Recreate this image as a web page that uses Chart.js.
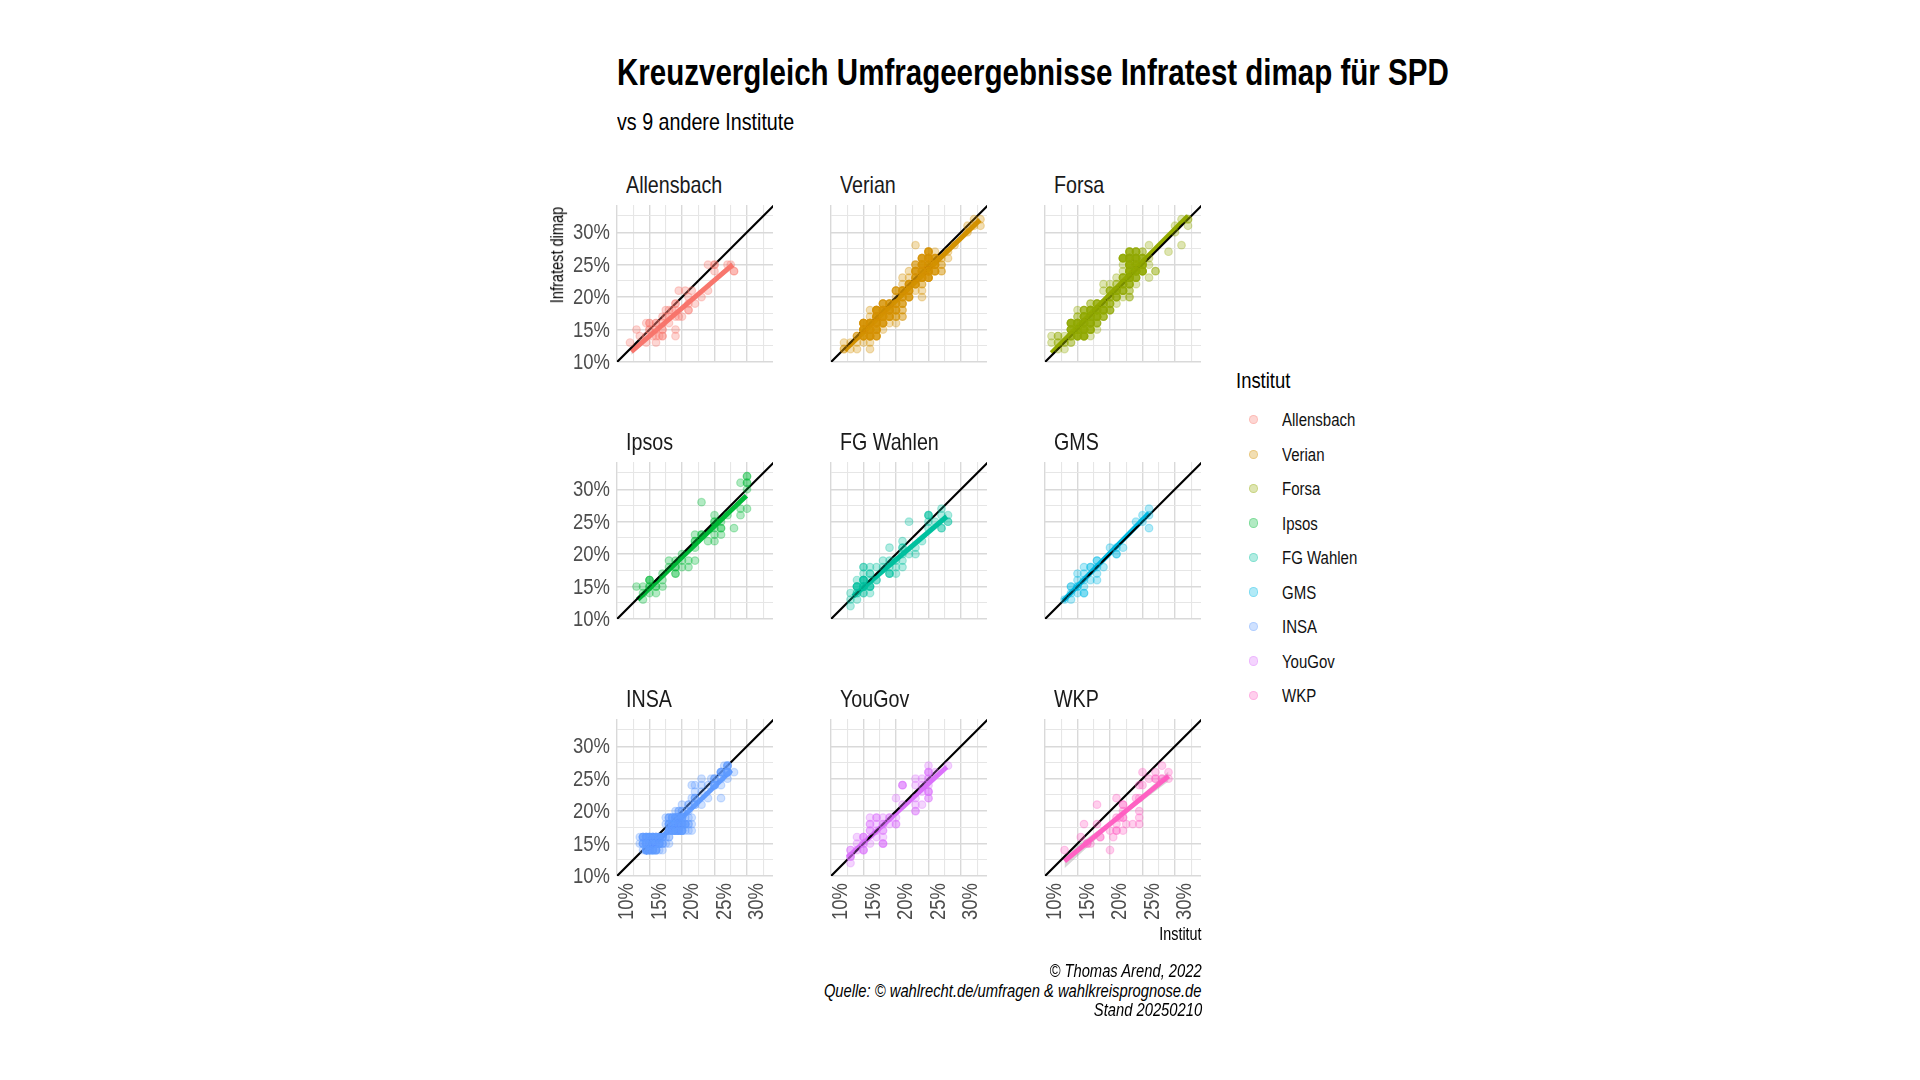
<!DOCTYPE html>
<html><head><meta charset="utf-8">
<script src="https://cdn.jsdelivr.net/npm/chart.js@4"></script>
<style>
html,body{margin:0;padding:0;background:#fff;width:1920px;height:1080px;overflow:hidden}
body{position:relative;font-family:"Liberation Sans",sans-serif;color:#000}
canvas{position:absolute}
.t{position:absolute;white-space:nowrap;line-height:1;transform:scaleX(.82);transform-origin:left center}
.t.r{transform-origin:right center}
.dot{position:absolute;width:7.4px;height:7.4px;border-radius:50%;border-width:1.2px;border-style:solid}
</style></head><body>
<script>
const institutes=["Allensbach","Verian","Forsa","Ipsos","FG Wahlen","GMS","INSA","YouGov","WKP"];
const colours=["#F8766D","#D39200","#93AA00","#00BA38","#00C19F","#00B9E3","#619CFF","#DB72FB","#FF61C3"];
const axisTicks=[10,15,20,25,30];
const identityLine=[[10,10],[35,35]];

const allensbach=[[24,25],[25,25],[25,25],[27,25],[27.5,25],[25,24],[28,24],[28,24],[24,21],[19.5,21],[20.5,21],[21.5,21],[21,20],[23,20],[22,19],[19,19],[19,19],[21,19],[17.5,18],[18,18],[18.5,18],[21,18],[21,18],[19,18],[17,17],[17.5,17],[19,17],[19.5,17],[20,17],[18,17],[14.5,16],[15,16],[15,16],[16,16],[16,16],[17,16],[18,16],[13,15],[15,15],[15,15],[16,15],[17,15],[17,15],[19,15],[13.5,14],[14.5,14],[15.5,14],[16,14],[16.5,14],[17,14],[17,14],[19,14],[12,13],[14.5,13],[16,13]];
const verian=[[32,32],[33,32],[33,31],[32,31],[31,31],[31,30],[23,28],[29,28],[26,27],[25,27],[25,27],[25,27],[28,27],[24,26],[24,26],[25,26],[25,26],[25,26],[26,26],[26,26],[27,26],[28,26],[23,25],[24,25],[24,25],[24,25],[25,25],[25,25],[25,25],[26,25],[26,25],[27,25],[27,25],[22,24],[23,24],[23,24],[24,24],[24,24],[24,24],[25,24],[25,24],[25,24],[26,24],[26,24],[27,24],[27,24],[21,23],[22,23],[23,23],[23,23],[24,23],[24,23],[25,23],[25,23],[21,22],[22,22],[22,22],[23,22],[23,22],[24,22],[24,22],[20,21],[20,21],[21,21],[21,21],[22,21],[22,21],[23,21],[24,21],[20,20],[21,20],[22,20],[22,20],[24,20],[18,19],[18,19],[19,19],[19,19],[20,19],[20,19],[21,19],[21,19],[16,18],[17,18],[17,18],[17,18],[18,18],[18,18],[18,18],[19,18],[19,18],[19,18],[20,18],[20,18],[21,18],[21,18],[16,17],[17,17],[17,17],[17,17],[18,17],[18,17],[18,17],[19,17],[19,17],[20,17],[21,17],[21,17],[15,16],[15,16],[15,16],[16,16],[16,16],[16,16],[17,16],[17,16],[17,16],[18,16],[18,16],[18,16],[19,16],[20,16],[15,15],[15,15],[15,15],[16,15],[16,15],[16,15],[17,15],[17,15],[18,15],[14,14],[14,14],[15,14],[15,14],[15,14],[16,14],[16,14],[16,14],[17,14],[17,14],[12,13],[13,13],[14,13],[15,13],[16,13],[12,12],[12,12],[13,12],[14,12],[16,12]];
const forsa=[[31,32],[32,32],[32,32],[32,31],[30,31],[30,30],[31,28],[29,27],[26,28],[27,24],[27,24],[26,23],[26,26],[26,25],[23,27],[23,27],[24,27],[24,27],[25,27],[25,27],[22,26],[22,26],[22,26],[23,26],[23,26],[23,26],[24,26],[24,26],[24,26],[25,26],[25,26],[22,25],[23,25],[23,25],[23,25],[24,25],[24,25],[24,25],[25,25],[25,25],[25,25],[22,24],[23,24],[23,24],[23,24],[24,24],[24,24],[24,24],[25,24],[25,24],[25,24],[21,23],[22,23],[22,23],[23,23],[23,23],[23,23],[24,23],[24,23],[19,22],[20,22],[21,22],[21,22],[22,22],[22,22],[23,22],[23,22],[24,22],[19,21],[20,21],[20,21],[21,21],[21,21],[21,21],[22,21],[22,21],[23,21],[23,21],[20,20],[20,20],[21,20],[21,20],[22,20],[23,20],[23,20],[17,19],[17,19],[18,19],[18,19],[19,19],[19,19],[20,19],[20,19],[21,19],[15,18],[16,18],[16,18],[17,18],[17,18],[17,18],[18,18],[18,18],[18,18],[19,18],[19,18],[19,18],[20,18],[20,18],[15,17],[15,17],[16,17],[16,17],[16,17],[17,17],[17,17],[17,17],[18,17],[18,17],[18,17],[19,17],[19,17],[14,16],[14,16],[14,16],[15,16],[15,16],[15,16],[16,16],[16,16],[16,16],[17,16],[17,16],[17,16],[18,16],[18,16],[14,15],[14,15],[14,15],[15,15],[15,15],[15,15],[16,15],[16,15],[16,15],[17,15],[17,15],[18,15],[13,14],[14,14],[14,14],[14,14],[15,14],[15,14],[15,14],[16,14],[16,14],[16,14],[17,14],[11,14],[12,14],[12,14],[11,13],[12,13],[12,13],[13,13],[13,13],[14,13],[14,13],[12,12],[13,12]];
const ipsos=[[30,32],[30,32],[30,31],[30,31],[29,31],[30,30],[23,28],[30,27],[29,27],[29,26],[25,26],[27,26],[25,25],[25,25],[26,25],[25,24],[26,24],[26,24],[28,24],[25,23],[26,23],[22,23],[23,23],[23,23],[24,22],[25,22],[22,22],[22,22],[22,21],[20,20],[18,19],[19,19],[21,19],[22,19],[20,19],[18,18],[19,18],[19,18],[20,18],[21,18],[17,17],[19,17],[19,17],[15,16],[15,16],[15,16],[17,16],[13,15],[14,15],[15,15],[15,15],[16,15],[16,15],[17,15],[14,14],[15,14],[16,14],[14,13]];
const fgWahlen=[[27,27],[28,26],[25,26],[25,26],[25,26],[27,26],[28,25],[28,25],[26,25],[25,25],[25,24],[27,24],[27,24],[22,25],[21,22],[24,22],[19,21],[21,21],[21,21],[23,21],[23,20],[22,20],[21,20],[18,19],[19,19],[20,19],[21,19],[15,18],[15,18],[16,18],[17,18],[18,18],[19,18],[20,18],[21,18],[15,17],[16,17],[16,17],[19,17],[19,17],[19,17],[20,17],[14,16],[15,16],[15,16],[15,16],[16,16],[17,16],[17,16],[14,15],[14,15],[14,15],[15,15],[15,15],[15,15],[16,15],[16,15],[16,15],[13,14],[14,14],[14,14],[15,14],[15,14],[16,14],[13,13],[14,13],[13,12]];
const gms=[[26,27],[25,26],[26,26],[24,25],[25,25],[26,24],[20,21],[21,21],[22,21],[21,20],[21,20],[18,19],[18,19],[19,18],[17,18],[17,18],[16,18],[18,18],[15,17],[16,17],[18,17],[15,16],[16,16],[17,16],[18,16],[14,15],[14,15],[15,15],[15,15],[16,15],[14,14],[15,14],[16,14],[16,14],[13,13],[14,13]];
const insa=[[26.5,27],[27,27],[27,27],[26,26],[26,26],[27,26],[27,26],[28,26],[23,25],[24.5,25],[25,25],[26,25],[27,25],[21.5,24],[22,24],[23,24],[24,24],[25,24],[25,24],[26,24],[22,23],[21.5,22],[22,22],[24,22],[26,22],[20,21],[22,21],[23,21],[19,20],[20,20],[20,20],[21,20],[17.5,19],[18,19],[18.5,19],[19,19],[19,19],[19.5,19],[20,19],[20.5,19],[21,19],[21.5,19],[17.5,18],[18,18],[18,18],[18.5,18],[18.5,18],[19,18],[19,18],[19.5,18],[19.5,18],[20,18],[20,18],[20.5,18],[20.5,18],[21,18],[21,18],[21.5,18],[18,17],[18,17],[18.5,17],[19,17],[19,17],[19.5,17],[19.5,17],[20,17],[20,17],[20.5,17],[21,17],[21.5,17],[13.5,16],[14,16],[14,16],[14.5,16],[14.5,16],[15,16],[15,16],[15.5,16],[15.5,16],[16,16],[16,16],[16.5,16],[16.5,16],[17,16],[17,16],[17.5,16],[18,16],[18,16],[13.5,15],[14,15],[14.5,15],[14.5,15],[15,15],[15,15],[15.5,15],[15.5,15],[16,15],[16,15],[16.5,15],[16.5,15],[17,15],[17.5,15],[18,15],[14,14],[14.5,14],[14.5,14],[15,14],[15,14],[15.5,14],[15.5,14],[16,14],[16,14],[16.5,14],[17,14]];
const yougov=[[28,27],[25,27],[25,26],[25,26],[25,26],[26,26],[25,25],[25,25],[23,25],[24,25],[21,24],[21,24],[21,24],[23,24],[24,24],[25,24],[25,23],[25,23],[25,23],[24,23],[25,22],[25,22],[23,22],[20,22],[23,21],[21,21],[24,21],[23,20],[23,20],[16,19],[17,19],[17,19],[18,19],[19,19],[19,19],[20,19],[16,18],[16,18],[17,18],[18,18],[18,18],[19,18],[20,18],[20,18],[16,17],[16,17],[17,17],[18,17],[18,17],[14,16],[15,16],[15,16],[15,16],[17,16],[18,16],[14,15],[15,15],[15,15],[16,15],[18,15],[18,15],[18,15],[13,14],[13,14],[14,14],[15,14],[15,14],[15,14],[13,13],[13,13],[13,13],[13,12]];
const wkp=[[28,27],[25,26],[27,26],[29,26],[24.5,24],[25,24],[26,25],[27,25],[27,25],[28,25],[28,25],[29,25],[21,22],[24,22],[24.5,22],[22,21],[22,21],[18,21],[24.5,20],[22,20],[21,19],[21.5,19],[22,19],[22,19],[24.5,19],[16,18],[18,18],[21,18],[22.5,18],[23.5,18],[24.5,18],[20,17],[21,17],[21,17],[22,17],[15.5,16],[18.5,16],[18.5,16],[20.5,16],[16.5,15],[16.5,15],[17,15],[20,14],[13,14]];
const allPolls=[allensbach,verian,forsa,ipsos,fgWahlen,gms,insa,yougov,wkp];

// further polls sitting on the darkest cells: [x, y, number of polls]
const verianMore=[[25,27,3],[25,26,6],[25,25,6],[25,24,6],[24,25,6],[24,24,6],[26,25,4],[24,26,4],[26,26,3],[26,24,3],[23,24,4],[23,25,2],[24,23,5],[25,23,4],[23,23,3],[22,21,4],[21,21,4],[22,22,4],[23,22,4],[21,20,3],[22,20,3],[20,21,2],[20,19,3],[19,19,3],[18,19,3],[21,19,2],[17,18,5],[18,18,6],[19,18,5],[20,18,3],[17,17,5],[18,17,6],[19,17,4],[20,17,2],[15,16,5],[16,16,6],[17,16,6],[18,16,3],[15,15,6],[16,15,6],[17,15,5],[15,14,4],[16,14,5],[17,14,3],[14,14,1]];
const forsaMore=[[23,26,6],[24,26,6],[25,26,3],[23,25,6],[24,25,7],[25,25,4],[23,24,6],[24,24,7],[25,24,4],[23,27,3],[24,27,3],[22,26,4],[23,23,5],[24,23,3],[22,23,3],[22,22,3],[23,22,3],[21,21,4],[22,21,3],[20,21,2],[21,20,3],[20,20,2],[19,19,3],[18,19,3],[20,19,2],[16,17,4],[17,17,5],[18,17,5],[19,17,2],[16,18,2],[17,18,4],[18,18,5],[19,18,4],[20,18,2],[15,16,5],[16,16,6],[17,16,5],[18,16,2],[15,15,5],[16,15,6],[17,15,4],[14,15,4],[14,16,4],[15,14,4],[16,14,4],[14,14,2]];
const fgWahlenMore=[[14,15,2],[15,15,3],[15,16,2],[16,15,1]];
const insaMore=[[14,16,3],[14.5,16,4],[15,16,4],[15.5,16,4],[16,16,4],[16.5,16,3],[17,16,2],[14,15,3],[14.5,15,4],[15,15,4],[15.5,15,4],[16,15,4],[16.5,15,4],[17,15,2],[14.5,14,4],[15,14,4],[15.5,14,4],[16,14,3],[18,18,3],[18.5,18,4],[19,18,5],[19.5,18,5],[20,18,5],[20.5,18,3],[18,17,2],[18.5,17,4],[19,17,5],[19.5,17,5],[20,17,4],[18,19,2],[18.5,19,3],[19,19,4],[19.5,19,4],[20,19,3],[19.5,20,2],[26,26,3],[27,26,3],[27,27,2],[25,25,2],[25,24,2],[23,23,1],[22,22,2],[21,21,2],[22,21,1]];
const allMore=[[],verianMore,forsaMore,[],fgWahlenMore,[],insaMore,[],[]];

const allensbachTrend=[[12.2,11.6],[27.8,25]], allensbachBandHigh=[[12.2,12.1],[20,18.6],[27.8,25.5]], allensbachBandLow=[[12.2,11.1],[20,18.1],[27.8,24.5]];
const verianTrend=[[12.1,11.8],[32.9,31.9]], verianBandHigh=[[12.1,12],[22,21.5],[32.9,32.2]], verianBandLow=[[12.1,11.6],[22,21.3],[32.9,31.6]];
const forsaTrend=[[11,11.4],[32,32.5]], forsaBandHigh=[[11,11.6],[22,22.4],[32,32.8]], forsaBandLow=[[11,11.2],[22,22.2],[32,32.2]];
const ipsosTrend=[[13.2,13],[29.9,29]], ipsosBandHigh=[[13.2,13.3],[21,20.6],[29.9,29.4]], ipsosBandLow=[[13.2,12.7],[21,20.3],[29.9,28.6]];
const fgWahlenTrend=[[13.4,13.5],[27.8,25.8]], fgWahlenBandHigh=[[13.4,13.8],[20,19.3],[27.8,26.2]], fgWahlenBandLow=[[13.4,13.2],[20,19],[27.8,25.4]];
const gmsTrend=[[12.8,12.8],[26,26.3]], gmsBandHigh=[[12.8,13],[19,19.2],[26,26.6]], gmsBandLow=[[12.8,12.6],[19,19],[26,26]];
const insaTrend=[[14.3,13.5],[27.6,26.3]], insaBandHigh=[[14.3,13.7],[20,19.1],[27.6,26.5]], insaBandLow=[[14.3,13.3],[20,18.9],[27.6,26.1]];
const yougovTrend=[[12.6,12.9],[27.8,26.8]], yougovBandHigh=[[12.6,13.2],[20,19.9],[27.8,27.2]], yougovBandLow=[[12.6,12.6],[20,19.6],[27.8,26.4]];
const wkpTrend=[[13,12.3],[29,25.4]], wkpBandHigh=[[13,13.3],[21,19.1],[29,26.1]], wkpBandLow=[[13,11.2],[21,18.6],[29,24.6]];
const allTrends=[allensbachTrend,verianTrend,forsaTrend,ipsosTrend,fgWahlenTrend,gmsTrend,insaTrend,yougovTrend,wkpTrend];
const allBandHigh=[allensbachBandHigh,verianBandHigh,forsaBandHigh,ipsosBandHigh,fgWahlenBandHigh,gmsBandHigh,insaBandHigh,yougovBandHigh,wkpBandHigh];
const allBandLow=[allensbachBandLow,verianBandLow,forsaBandLow,ipsosBandLow,fgWahlenBandLow,gmsBandLow,insaBandLow,yougovBandLow,wkpBandLow];

const titleText="Kreuzvergleich Umfrageergebnisse Infratest dimap für SPD";
const subtitleText="vs 9 andere Institute";
const yAxisTitle="Infratest dimap", xAxisTitle="Institut", legendTitle="Institut";
const captionLines=["© Thomas Arend, 2022","Quelle: © wahlrecht.de/umfragen & wahlkreisprognose.de","Stand 20250210"];

const FONT='"Liberation Sans"', NARROW=.82;
const panelLefts=[617,831,1045], panelTops=[205,462,719];
const PW=156, PH=157, ML=60, MT=12, MR=12, MB=70;

function text(str,css,cls){const d=document.createElement('div');d.className='t'+(cls?' '+cls:'');d.textContent=str;d.style.cssText+=css;document.body.appendChild(d);return d;}
function alpha(hex,a){const n=parseInt(hex.slice(1),16);return `rgba(${n>>16},${(n>>8)&255},${n&255},${a})`;}
const xy=p=>p.map(([x,y])=>({x,y}));
const expand=m=>m.flatMap(([x,y,n])=>Array.from({length:n},()=>[x,y]));

// draws the library's own tick label items, condensed like the reference face
const narrowTicks={id:'narrowTicks',afterDraw(chart){
  const ctx=chart.ctx;
  for(const s of [chart.scales.x,chart.scales.y]){
    if(!s.options.ticks.display) continue;
    const nudge=s.axis==='y'?1:0;
    for(const it of s.getLabelItems()){
      if(!it.label) continue;
      const o=it.options;
      ctx.save();
      ctx.translate(o.translation[0],o.translation[1]+nudge);
      ctx.rotate(o.rotation);
      ctx.scale(NARROW,1);
      ctx.font=it.font.string;ctx.fillStyle='#4d4d4d';
      ctx.textAlign=o.textAlign;ctx.textBaseline=o.textBaseline;
      ctx.fillText(it.label,0,it.textOffset);
      ctx.restore();
    }
  }
}};

text(titleText,`left:617px;top:55px;font-size:36px;font-weight:bold;`);
text(subtitleText,`left:617px;top:110px;font-size:24px;`);

institutes.forEach((name,i)=>{
  const col=i%3,row=Math.floor(i/3),left=panelLefts[col],top=panelTops[row],c=colours[i];
  text(name,`left:${left+9}px;top:${top-32}px;font-size:24px;color:#1a1a1a;`);
  const cv=document.createElement('canvas');
  cv.style.left=(left-ML)+'px';cv.style.top=(top-MT)+'px';
  cv.width=PW+ML+MR;cv.height=PH+MT+MB;
  cv.style.width=cv.width+'px';cv.style.height=cv.height+'px';
  document.body.appendChild(cv);
  const grid={color:t=>axisTicks.includes(t.tick&&t.tick.value)?'#d9d9d9':'#e6e6e6',lineWidth:t=>axisTicks.includes(t.tick&&t.tick.value)?1.4:1.1,drawTicks:false};
  const tickFont={family:FONT,size:22.5};
  const label=v=>axisTicks.includes(v)?v+'%':'';
  const noPad=s=>{s.paddingLeft=s.paddingRight=s.paddingTop=s.paddingBottom=0;};
  new Chart(cv,{type:'scatter',
    data:{datasets:[
      {label:'KI oben',data:xy(allBandHigh[i]),showLine:true,borderWidth:0,pointRadius:0,fill:'+1',backgroundColor:'rgba(153,153,153,.4)',order:6},
      {label:'KI unten',data:xy(allBandLow[i]),showLine:true,borderWidth:0,pointRadius:0,order:6},
      {label:'Trend',data:xy(allTrends[i]),showLine:true,borderColor:c,borderWidth:5,pointRadius:0,order:5},
      {label:'Identität',data:xy(identityLine),showLine:true,borderColor:'#000',borderWidth:2.2,pointRadius:0,order:4},
      {label:name,data:xy(allPolls[i].concat(expand(allMore[i]))),backgroundColor:alpha(c,.3),borderColor:alpha(c,.3),borderWidth:1.2,pointRadius:3.8,order:1}
    ]},
    plugins:[narrowTicks],
    options:{responsive:false,animation:false,devicePixelRatio:1,
      layout:{padding:{top:MT,right:MR,left:0,bottom:0}},
      plugins:{legend:{display:false},tooltip:{enabled:false}},
      scales:{
        x:{type:'linear',min:10,max:34,
          border:{display:false},grid,
          ticks:{stepSize:2.5,includeBounds:false,display:row===2,autoSkip:false,minRotation:90,maxRotation:90,labelOffset:10,padding:7,color:'rgba(0,0,0,0)',font:tickFont,callback:label},
          afterFit:s=>{s.height=MB;noPad(s);}},
        y:{type:'linear',min:10,max:34.2,
          border:{display:false},grid,
          ticks:{stepSize:2.5,includeBounds:false,display:col===0,autoSkip:false,padding:7,color:'rgba(0,0,0,0)',font:tickFont,callback:label},
          afterFit:s=>{s.width=ML;noPad(s);}}
      }}});
});

text(yAxisTitle,`left:558px;top:254.7px;font-size:17.8px;transform:translate(-50%,-50%) rotate(-90deg) scaleX(${NARROW});transform-origin:center center;`);
text(xAxisTitle,`right:718px;top:926px;font-size:17.5px;`,'r');
text(legendTitle,`left:1236px;top:370px;font-size:22.5px;`);
institutes.forEach((name,i)=>{
  const y=420+i*34.45;
  const d=document.createElement('div');d.className='dot';
  d.style.cssText+=`left:1248.8px;top:${y-4.9}px;background:${alpha(colours[i],.3)};border-color:${alpha(colours[i],.3)};`;
  document.body.appendChild(d);
  text(name,`left:1282px;top:${y-8.6}px;font-size:18.3px;color:#111;`);
});
captionLines.forEach((l,i)=>{
  text(l,`right:718px;top:${962+i*19.6}px;font-size:18px;font-style:italic;`,'r');
});
</script>
</body></html>
